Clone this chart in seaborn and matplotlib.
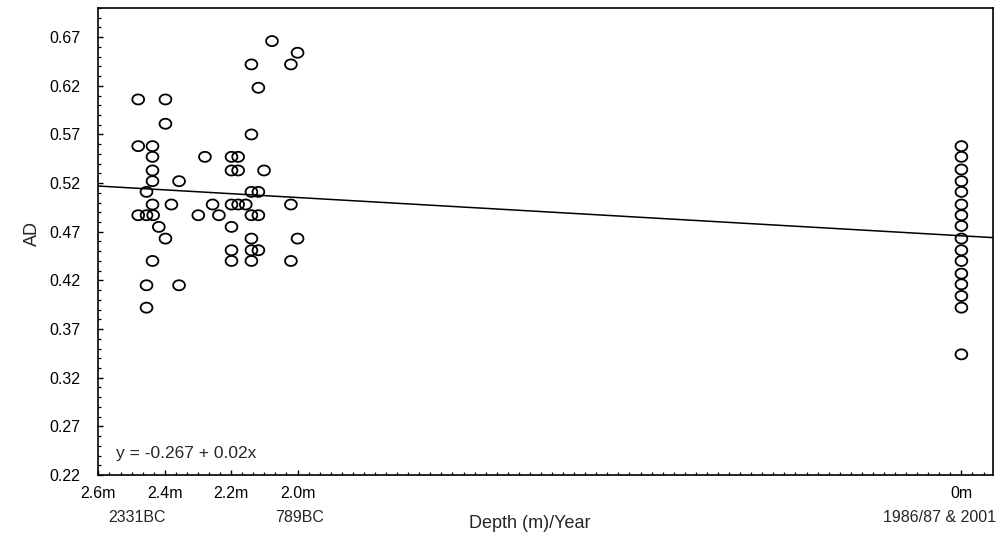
import numpy as np
import matplotlib
matplotlib.use("Agg")
import matplotlib.pyplot as plt
from matplotlib.path import Path
from matplotlib.ticker import MultipleLocator, FixedLocator
import seaborn as sns

# core samples (depth in m) and AD values
core_depth = [2.077, 2.000, 2.139, 2.020, 2.118, 2.480, 2.398, 2.398, 2.139,
              2.480, 2.437, 2.437, 2.279, 2.199, 2.179,
              2.437, 2.199, 2.179, 2.101, 2.437, 2.357,
              2.455, 2.139, 2.118,
              2.437, 2.380, 2.256, 2.199, 2.179, 2.156, 2.020,
              2.480, 2.455, 2.435, 2.299, 2.237, 2.139, 2.118,
              2.418, 2.199, 2.398, 2.139, 2.000,
              2.199, 2.139, 2.118, 2.437, 2.199, 2.139, 2.020,
              2.455, 2.357, 2.455]
core_ad = [0.666, 0.654, 0.642, 0.642, 0.618, 0.606, 0.606, 0.581, 0.570,
           0.558, 0.558, 0.547, 0.547, 0.547, 0.547,
           0.533, 0.533, 0.533, 0.533, 0.522, 0.522,
           0.511, 0.511, 0.511,
           0.498, 0.498, 0.498, 0.498, 0.498, 0.498, 0.498,
           0.487, 0.487, 0.487, 0.487, 0.487, 0.487, 0.487,
           0.475, 0.475, 0.463, 0.463, 0.463,
           0.451, 0.451, 0.451, 0.440, 0.440, 0.440, 0.440,
           0.415, 0.415, 0.392]

# modern samples at the surface
modern_depth = [0.0] * 16
modern_ad = [0.558, 0.547, 0.534, 0.522, 0.511, 0.498, 0.487, 0.476,
             0.463, 0.451, 0.440, 0.427, 0.416, 0.404, 0.392, 0.344]

# fitted line end points
line_depth = [2.6, -0.095]
line_ad = [0.517, 0.464]

x_ticks = [2.6, 2.4, 2.2, 2.0, 0.0]
x_ticklabels = ["2.6m", "2.4m", "2.2m", "2.0m", "0m"]
y_ticks = [0.22, 0.27, 0.32, 0.37, 0.42, 0.47, 0.52, 0.57, 0.62, 0.67]
year_pos = [2.484, 1.993, 0.066]
year_labels = ["2331BC", "789BC", "1986/87 & 2001"]

sns.set_style("ticks")
plt.rcParams['font.family'] = ['Liberation Sans', 'DejaVu Sans']

depth = core_depth + modern_depth
ad = core_ad + modern_ad

# slightly flattened open circle, like the original
t = np.linspace(0, 2 * np.pi, 61)
ellipse = Path(np.column_stack([np.cos(t), 0.85 * np.sin(t)]), closed=True)

fig = plt.figure(figsize=(10.04, 5.36), dpi=100)
ax = fig.add_axes([0.098, 0.1138, 0.891, 0.8713])

sns.lineplot(x=line_depth, y=line_ad, color="black", linewidth=1.1, ax=ax, sort=False)
sns.scatterplot(x=depth, y=ad, marker=ellipse, s=72, facecolor="none",
                edgecolor="black", linewidth=1.3, ax=ax, zorder=3)

ax.set_xlim(2.6, -0.095)
ax.set_ylim(0.22, 0.70)

ax.xaxis.set_major_locator(FixedLocator(x_ticks))
ax.set_xticklabels(x_ticklabels)
ax.xaxis.set_minor_locator(MultipleLocator(1 / 30))
ax.yaxis.set_major_locator(FixedLocator(y_ticks))
ax.set_yticklabels([f"{v:.2f}" for v in y_ticks])
ax.yaxis.set_minor_locator(MultipleLocator(0.01))

ax.tick_params(which="major", direction="in", length=3.5, width=1.0,
               labelsize=11.5, color="black", labelcolor="black")
ax.tick_params(axis="x", which="major", pad=8)
ax.tick_params(axis="y", which="major", pad=13)
ax.tick_params(which="minor", direction="in", length=2.5, width=0.9, color="black")

for sp in ax.spines.values():
    sp.set_color("black")
    sp.set_linewidth(1.2)

for x, lab in zip(year_pos, year_labels):
    ax.text(x, -0.092, lab, transform=ax.get_xaxis_transform(),
            ha="center", va="center", fontsize=11.5)

ax.text(2.547, 0.2425, "y = -0.267 + 0.02x", ha="left", va="center", fontsize=12.5)

ax.set_xlabel("Depth (m)/Year", fontsize=13)
ax.set_ylabel("AD", fontsize=13)
ax.xaxis.set_label_coords(0.482, -0.103)
ax.xaxis.label.set_va("center")
ax.yaxis.set_label_coords(-0.0735, 0.518)
ax.yaxis.label.set_va("center")

fig.savefig("out.png", dpi=100)
